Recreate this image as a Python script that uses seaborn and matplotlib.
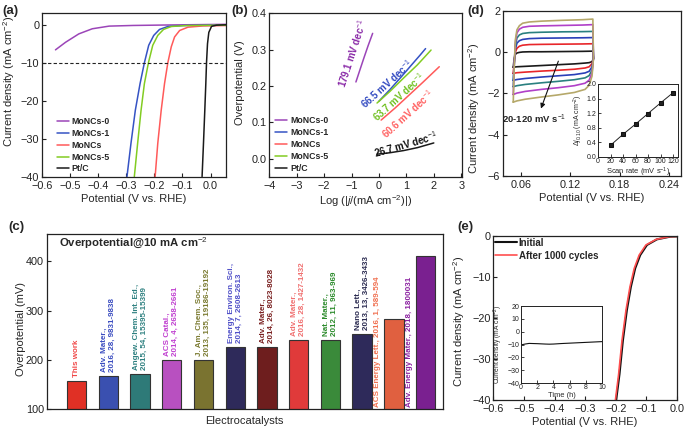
import numpy as np
import pandas as pd
import seaborn as sns
import matplotlib.pyplot as plt

# ---------------- data ----------------
# (a) HER polarization curves
lsv_names = ["MoNCs-0", "MoNCs-1", "MoNCs", "MoNCs-5", "Pt/C"]
lsv_colors = ["#9b45b8", "#3553c4", "#ff5a5a", "#82cc22", "#1a1a1a"]
lsv0_x = [-0.552, -0.516, -0.469, -0.421, -0.361, -0.277, -0.15, 0.055]
lsv0_y = [-6.6, -4.6, -2.4, -1.05, -0.35, -0.18, -0.05, 0.12]
lsv1_x = [-0.2975, -0.2832, -0.2677, -0.2509, -0.2355, -0.2201, -0.2022, -0.1817, -0.152, -0.098, 0.055]
lsv1_y = [-40, -31.2, -22.5, -15.5, -10, -5.4, -2.8, -1.23, -0.45, -0.2, -0.1]
lsv2_x = [-0.1972, -0.1878, -0.1756, -0.1638, -0.152, -0.1398, -0.128, -0.11, -0.0803, -0.0265, 0.055]
lsv2_y = [-40, -31.2, -22.5, -15.5, -10, -5.8, -3.2, -1.5, -0.63, -0.3, -0.2]
lsv5_x = [-0.2713, -0.2595, -0.2473, -0.2355, -0.2211, -0.2057, -0.1878, -0.1674, -0.1398, -0.087, 0.055]
lsv5_y = [-40, -31.2, -22.5, -15.5, -10, -5.4, -2.8, -1.23, -0.45, -0.2, -0.1]
lsvpt_x = [-0.0301, -0.0251, -0.0204, -0.0168, -0.0143, -0.0108, -0.0061, 0.0036, 0.0215, 0.055]
lsvpt_y = [-40, -31.2, -22.5, -15.5, -10, -5, -2, -0.4, -0.1, 0.0]

# (b) Tafel plots
tafel0_x = [-0.84, -0.7, -0.55, -0.4, -0.23]
tafel0_y = [0.211, 0.243, 0.277, 0.31, 0.345]
tafel1_x = [0.0, 0.4, 0.8, 1.2, 1.5, 1.7]
tafel1_y = [0.158, 0.19, 0.224, 0.259, 0.285, 0.303]
tafel2_x = [0.08, 0.6, 1.1, 1.6, 2.2]
tafel2_y = [0.106, 0.14, 0.175, 0.21, 0.253]
tafel5_x = [-0.07, 0.4, 0.9, 1.4, 1.9]
tafel5_y = [0.153, 0.185, 0.222, 0.258, 0.299]
tafelpt_x = [-0.07, 0.4, 0.9, 1.4, 2.0]
tafelpt_y = [0.012, 0.016, 0.022, 0.03, 0.043]
tafel_text = ["179.1 mV dec$^{-1}$", "66.5 mV dec$^{-1}$", "60.6 mV dec$^{-1}$",
              "63.7 mV dec$^{-1}$", "26.7 mV dec$^{-1}$"]
tafel_text_colors = ["#8a2aa8", "#3048c0", "#ff6060", "#70c020", "#111111"]
tafel_text_x = [-0.96, 0.3, 1.06, 0.71, 0.98]
tafel_text_y = [0.29, 0.207, 0.123, 0.17, 0.04]
tafel_text_rot = [72, 42, 42, 42, 16]

# (c) overpotential comparison
refs = ["This work",
        "Adv. Mater.,\n2016, 28, 9831-9838",
        "Angew. Chem. Int. Ed.,\n2015, 54, 15395-15399",
        "ACS Catal.,\n2014, 4, 2658-2661",
        "J. Am. Chem. Soc.,\n2013, 135, 19186-19192",
        "Energy Environ. Sci.,\n2014, 7, 2608-2613",
        "Adv. Mater.,\n2014, 26, 8023-8028",
        "Adv. Mater.,\n2016, 28, 1427-1432",
        "Nat. Mater.,\n2012, 11, 963-969",
        "Nano Lett.,\n2013, 13, 3426-3433",
        "ACS Energy Lett., 2016, 1, 589-594",
        "Adv. Energy Mater., 2018, 1800031"]
overpot = [157, 167, 172, 200, 200, 226, 227, 241, 241, 252, 284, 412]
bar_colors = ["#e03025", "#3a50b0", "#2e7a78", "#b850c0", "#7a7330", "#2e2a5a",
              "#6e1e1e", "#e03a3a", "#3a8a3a", "#2e2a5a", "#e06040", "#7a2090"]
ref_colors = ["#f04848", "#3a4cc0", "#2e8080", "#c040d0", "#7a7a30", "#5050c8",
              "#7a2020", "#f07070", "#2a8a2a", "#2a2a50", "#f07050", "#8a20a0"]

# (d) CV loops at 20-120 mV/s
cv_x = [0.0505, 0.0515, 0.053, 0.055, 0.058, 0.062, 0.070, 0.085, 0.110, 0.135, 0.1475,
        0.1482, 0.1465, 0.143, 0.138, 0.125, 0.105, 0.085, 0.065, 0.055, 0.0505]
cv20_y = [-0.72, -0.35, -0.1, -0.03, 0.0, 0.02, 0.03, 0.03, 0.04, 0.05, 0.06,
          -0.3, -0.45, -0.5, -0.52, -0.56, -0.6, -0.64, -0.68, -0.7, -0.72]
cv40_y = [-1.02, -0.5, 0.0, 0.2, 0.3, 0.35, 0.38, 0.39, 0.40, 0.41, 0.42,
          -0.3, -0.55, -0.7, -0.76, -0.82, -0.87, -0.91, -0.96, -0.99, -1.02]
cv60_y = [-1.36, -0.6, 0.15, 0.45, 0.57, 0.63, 0.67, 0.69, 0.70, 0.71, 0.72,
          -0.3, -0.7, -0.92, -1.0, -1.08, -1.14, -1.2, -1.27, -1.32, -1.36]
cv80_y = [-1.67, -0.7, 0.3, 0.7, 0.85, 0.92, 0.96, 0.98, 1.0, 1.01, 1.02,
          -0.3, -0.85, -1.13, -1.24, -1.33, -1.41, -1.48, -1.56, -1.62, -1.67]
cv100_y = [-2.05, -0.8, 0.45, 0.95, 1.13, 1.22, 1.27, 1.29, 1.31, 1.33, 1.35,
           -0.3, -1.0, -1.35, -1.5, -1.62, -1.72, -1.8, -1.9, -1.98, -2.05]
cv120_y = [-2.42, -0.9, 0.6, 1.1, 1.3, 1.42, 1.48, 1.52, 1.56, 1.59, 1.62,
           -0.3, -1.15, -1.6, -1.8, -1.95, -2.07, -2.17, -2.28, -2.36, -2.42]
cv_colors = ["#1a1a1a", "#e8262a", "#2a3fb8", "#2a8080", "#b040c8", "#b5a86a"]
scan_rate = [20, 40, 60, 80, 100, 120]
delta_j = [0.32, 0.62, 0.90, 1.19, 1.48, 1.76]

# (e) stability
init_x = [-0.1985, -0.1877, -0.1766, -0.1636, -0.1505, -0.1364, -0.12, -0.098, -0.0654, -0.022, 0.0]
init_y = [-40, -33.7, -25.5, -18.1, -12.4, -7.9, -4.66, -2.2, -0.82, -0.16, -0.1]
after_x = [-0.201, -0.1905, -0.1795, -0.1665, -0.1535, -0.1395, -0.1235, -0.1015, -0.068, -0.024, 0.0]
after_y = [-40, -33.7, -25.5, -18.1, -12.4, -7.9, -4.66, -2.2, -0.82, -0.16, -0.1]
time_h = [0, 0.5, 1, 2, 3, 3.5, 4, 5, 6, 7, 8, 9, 10]
time_j = [-10.3, -9.6, -9.1, -9.3, -9.6, -9.7, -9.6, -9.2, -8.9, -8.6, -8.3, -8.0, -7.7]

# ---------------- style ----------------
sns.set_theme(style="ticks")
plt.rcParams["font.family"] = ["Liberation Sans", "DejaVu Sans"]
plt.rcParams.update({
    "mathtext.fontset": "custom",
    "mathtext.rm": "Liberation Sans",
    "mathtext.it": "Liberation Sans:italic",
    "mathtext.bf": "Liberation Sans:bold",
    "xtick.direction": "in", "ytick.direction": "in",
    "xtick.major.size": 3, "ytick.major.size": 3,
    "xtick.major.width": 0.8, "ytick.major.width": 0.8,
    "xtick.major.pad": 3, "ytick.major.pad": 2,
    "xtick.labelsize": 7.8, "ytick.labelsize": 7.8,
    "axes.labelsize": 8, "axes.linewidth": 0.9,
    "axes.edgecolor": "#222222",
    "xtick.color": "#222222", "ytick.color": "#222222",
})

fig = plt.figure(figsize=(6.85, 4.32), dpi=100)
ax_a = fig.add_axes([0.0613, 0.591, 0.2686, 0.378])
ax_b = fig.add_axes([0.3931, 0.591, 0.2814, 0.378])
ax_d = fig.add_axes([0.7343, 0.5933, 0.2600, 0.3806])
ax_di = fig.add_axes([0.873, 0.6366, 0.1168, 0.169])
ax_c = fig.add_axes([0.0682, 0.0525, 0.5781, 0.4051])
ax_e = fig.add_axes([0.7202, 0.0741, 0.2680, 0.3796])
ax_ei = fig.add_axes([0.7606, 0.1134, 0.1182, 0.178])

leg_font = {"weight": "bold", "size": 6.3}

# ---------------- (a) ----------------
for xs, ys, name, c in zip([lsv0_x, lsv1_x, lsv2_x, lsv5_x, lsvpt_x],
                           [lsv0_y, lsv1_y, lsv2_y, lsv5_y, lsvpt_y],
                           lsv_names, lsv_colors):
    sns.lineplot(x=xs, y=ys, ax=ax_a, color=c, lw=1.1, estimator=None, sort=False, label=name)
ax_a.axhline(-10, color="#222222", lw=0.8, ls=(0, (3, 2)))
ax_a.set_xlim(-0.6, 0.055)
ax_a.set_ylim(-40, 3)
ax_a.set_xticks([-0.6, -0.5, -0.4, -0.3, -0.2, -0.1, 0.0])
ax_a.set_yticks([0, -10, -20, -30, -40])
ax_a.set_xlabel("Potential (V vs. RHE)", labelpad=2)
ax_a.set_ylabel("Current density (mA cm$^{-2}$)")
ax_a.yaxis.set_label_coords(-0.138, 0.585)
ax_a.legend(loc="lower left", bbox_to_anchor=(0.08, 0.02), frameon=False, prop=leg_font,
            handlelength=1.4, handletextpad=0.3, labelspacing=0.32, borderpad=0, borderaxespad=0)

# ---------------- (b) ----------------
for xs, ys, name, c in zip([tafel0_x, tafel1_x, tafel2_x, tafel5_x, tafelpt_x],
                           [tafel0_y, tafel1_y, tafel2_y, tafel5_y, tafelpt_y],
                           lsv_names, lsv_colors):
    sns.lineplot(x=xs, y=ys, ax=ax_b, color=c, lw=1.1, estimator=None, sort=False, label=name)
for t, c, x, y, r in zip(tafel_text, tafel_text_colors, tafel_text_x, tafel_text_y, tafel_text_rot):
    ax_b.text(x, y, t, color=c, rotation=r, ha="center", va="center", rotation_mode="anchor",
              fontsize=7, fontweight="bold")
ax_b.set_xlim(-4, 3.03)
ax_b.set_ylim(-0.05, 0.4)
ax_b.set_xticks(range(-4, 4))
ax_b.set_yticks([0.0, 0.1, 0.2, 0.3, 0.4])
ax_b.set_yticklabels(["0.0", "0.1", "0.2", "0.3", "0.4"])
ax_b.set_xlabel("Log (|$j$/(mA cm$^{-2}$)|)", labelpad=2)
ax_b.set_ylabel("Overpotential (V)")
ax_b.yaxis.set_label_coords(-0.126, 0.573)
ax_b.legend(loc="lower left", bbox_to_anchor=(0.03, 0.025), frameon=False, prop=leg_font,
            handlelength=1.4, handletextpad=0.3, labelspacing=0.32, borderpad=0, borderaxespad=0)

# ---------------- (d) ----------------
for ys, c in zip([cv20_y, cv40_y, cv60_y, cv80_y, cv100_y, cv120_y], cv_colors):
    sns.lineplot(x=cv_x, y=ys, ax=ax_d, color=c, lw=1.2, estimator=None, sort=False)
ax_d.annotate("", xy=(0.0831, -2.86), xytext=(0.1066, -0.30),
              arrowprops=dict(arrowstyle="-|>", color="#111111", lw=0.8, mutation_scale=7))
ax_d.text(0.0758, -3.27, "20-120 mV s$^{-1}$", ha="center", va="center", fontsize=6.8,
          fontweight="bold")
ax_d.set_xlim(0.038, 0.255)
ax_d.set_ylim(-6, 2)
ax_d.set_xticks([0.06, 0.12, 0.18, 0.24])
ax_d.set_yticks([-6, -4, -2, 0, 2])
ax_d.set_xlabel("Potential (V vs. RHE)", labelpad=2)
ax_d.set_ylabel("Current density (mA cm$^{-2}$)")
ax_d.yaxis.set_label_coords(-0.118, 0.41)

sns.lineplot(x=scan_rate, y=delta_j, ax=ax_di, color="#222222", lw=0.7, marker="s",
             markersize=2.8, markeredgecolor="#111111", estimator=None)
ax_di.set_xlim(0, 128)
ax_di.set_ylim(0, 2.0)
ax_di.set_xticks([0, 20, 40, 60, 80, 100, 120])
ax_di.set_yticks([0.0, 0.4, 0.8, 1.2, 1.6, 2.0])
ax_di.set_yticklabels(["0.0", "0.4", "0.8", "1.2", "1.6", "2.0"])
ax_di.tick_params(labelsize=5.0, length=2, pad=1, width=0.6)
ax_di.set_xlabel("Scan rate (mV s$^{-1}$)", fontsize=5.4, labelpad=0.5)
ax_di.set_ylabel("$\\Delta j_{0.10}$ (mA cm$^{-2}$)", fontsize=5.0, labelpad=1)
for s in ax_di.spines.values():
    s.set_linewidth(0.7)

# ---------------- (c) ----------------
sns.barplot(x=refs, y=overpot, hue=refs, palette=bar_colors, legend=False, width=0.61,
            saturation=1, edgecolor="#333333", linewidth=0.8, ax=ax_c)
for i, (lab, v, c) in enumerate(zip(refs, overpot, ref_colors)):
    if i >= 10:
        ax_c.text(i - 0.5, 104, lab, rotation=90, ha="center", va="bottom", color=c,
                  fontsize=5.8, fontweight="bold")
    else:
        ax_c.text(i, v + 8, lab, rotation=90, ha="center", va="bottom", color=c,
                  fontsize=5.8, fontweight="bold", multialignment="left", linespacing=1.2)
ax_c.set_xlim(-0.94, 11.54)
ax_c.set_ylim(100, 455)
ax_c.set_yticks([100, 200, 300, 400])
ax_c.tick_params(axis="x", bottom=False, labelbottom=False)
ax_c.set_xlabel("Electrocatalysts", labelpad=5)
ax_c.set_ylabel("Overpotential (mV)")
ax_c.yaxis.set_label_coords(-0.052, 0.459)
ax_c.text(0.032, 0.95, "Overpotential@10 mA cm$^{-2}$", transform=ax_c.transAxes,
          ha="left", va="center", fontsize=8.2, fontweight="bold")

# ---------------- (e) ----------------
sns.lineplot(x=init_x, y=init_y, ax=ax_e, color="#111111", lw=1.5, estimator=None,
             sort=False, label="Initial")
sns.lineplot(x=after_x, y=after_y, ax=ax_e, color="#ff4f4f", lw=1.2, estimator=None,
             sort=False, label="After 1000 cycles")
ax_e.set_xlim(-0.6, 0.0)
ax_e.set_ylim(-40, 0)
ax_e.set_xticks([-0.6, -0.5, -0.4, -0.3, -0.2, -0.1, 0.0])
ax_e.set_yticks([0, -10, -20, -30, -40])
ax_e.set_xlabel("Potential (V vs. RHE)", labelpad=2)
ax_e.set_ylabel("Current density (mA cm$^{-2}$)")
ax_e.yaxis.set_label_coords(-0.145, 0.477)
ax_e.legend(loc="upper left", bbox_to_anchor=(0.01, 0.99), frameon=False,
            prop={"weight": "bold", "size": 7}, handlelength=2.2, handletextpad=0.2,
            labelspacing=0.3, borderpad=0, borderaxespad=0)

sns.lineplot(x=time_h, y=time_j, ax=ax_ei, color="#111111", lw=0.8, estimator=None)
ax_ei.set_xlim(0, 10)
ax_ei.set_ylim(-40, 20)
ax_ei.set_xticks([0, 2, 4, 6, 8, 10])
ax_ei.set_yticks([-40, -30, -20, -10, 0, 10, 20])
ax_ei.tick_params(labelsize=5.0, length=2, pad=1, width=0.6)
ax_ei.set_xlabel("Time (h)", fontsize=5.4, labelpad=0.5)
ax_ei.set_ylabel("Current density (mA cm$^{-2}$)", fontsize=4.8, labelpad=2.2)
for s in ax_ei.spines.values():
    s.set_linewidth(0.7)

# panel letters
for x, y, t in [(0.003, 0.975, "(a)"), (0.338, 0.975, "(b)"), (0.683, 0.975, "(d)"),
                (0.012, 0.475, "(c)"), (0.667, 0.475, "(e)")]:
    fig.text(x, y, t, fontsize=9.5, fontweight="bold", va="center", ha="left")

fig.savefig("out.png", dpi=100)
